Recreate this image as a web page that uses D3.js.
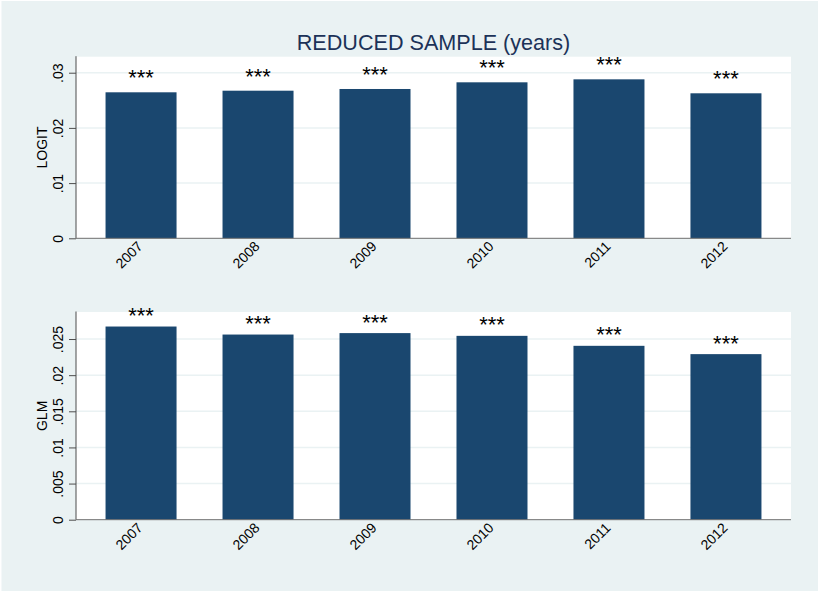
<!DOCTYPE html>
<meta charset="utf-8">
<head>
<script src="https://d3js.org/d3.v7.min.js"></script>
<style>
body { margin: 0; background: #ffffff; }
text { font-family: "Liberation Sans", Arial, sans-serif; }
</style>
</head>
<body>
<div id="chart"></div>
<script>
// data
var years = ["2007", "2008", "2009", "2010", "2011", "2012"];
var logitValues = [0.02645, 0.02674, 0.02705, 0.02826, 0.02880, 0.02627];
var glmValues = [0.02673, 0.02562, 0.02582, 0.02544, 0.02406, 0.02291];
var logitTicks = [0, 0.01, 0.02, 0.03];
var logitTickLabels = ["0", ".01", ".02", ".03"];
var glmTicks = [0, 0.005, 0.01, 0.015, 0.02, 0.025];
var glmTickLabels = ["0", ".005", ".01", ".015", ".02", ".025"];
var starLabel = "***";
var title = "REDUCED SAMPLE (years)";

var W = 819, H = 592;
var svg = d3.select("#chart").append("svg")
    .attr("width", W)
    .attr("height", H);

// graph region
svg.append("rect")
    .attr("x", 1.5).attr("y", 1)
    .attr("width", W - 2.5).attr("height", H - 2)
    .attr("fill", "#eaf2f3");

svg.append("text")
    .attr("x", 433.5)
    .attr("y", 50)
    .attr("text-anchor", "middle")
    .attr("font-size", "21.6px")
    .attr("fill", "#1c3258")
    .text(title);

var x = d3.scalePoint()
    .domain(years)
    .range([76, 791])
    .padding(0.556);
var barW = 71;

function panel(opt) {
    var y = d3.scaleLinear()
        .domain([0, opt.yMax])
        .range([opt.bottom, opt.top]);

    var g = svg.append("g");

    // plot region
    g.append("rect")
        .attr("x", 76).attr("y", opt.top)
        .attr("width", 791 - 76).attr("height", opt.bottom - opt.top)
        .attr("fill", "#ffffff");

    // gridlines
    g.selectAll(".grid")
        .data(opt.ticks.slice(1))
        .enter().append("line")
        .attr("x1", 76).attr("x2", 791)
        .attr("y1", function(d) { return y(d); })
        .attr("y2", function(d) { return y(d); })
        .attr("stroke", "#eaf2f3")
        .attr("stroke-width", 1.5);

    // bars
    g.selectAll(".bar")
        .data(opt.values)
        .enter().append("rect")
        .attr("x", function(d, i) { return x(years[i]) - barW / 2; })
        .attr("y", function(d) { return y(d); })
        .attr("width", barW)
        .attr("height", function(d) { return opt.bottom - y(d); })
        .attr("fill", "#1a476f");

    // significance stars
    g.selectAll(".star")
        .data(opt.values)
        .enter().append("text")
        .attr("x", function(d, i) { return x(years[i]); })
        .attr("y", function(d) { return y(d) - opt.starGap; })
        .attr("text-anchor", "middle")
        .attr("font-size", "22px")
        .attr("fill", "#000")
        .text(starLabel);

    // y axis
    var yAxis = d3.axisLeft(y)
        .tickValues(opt.ticks)
        .tickFormat(function(d, i) { return opt.tickLabels[i]; })
        .tickSize(7)
        .tickSizeOuter(0);
    var ya = g.append("g")
        .attr("transform", "translate(76,0)")
        .call(yAxis);
    ya.select(".domain")
        .attr("d", "M0," + (opt.top - 0.5) + "V" + opt.bottom)
        .attr("stroke", "#4d4d4d");
    ya.selectAll(".tick line").attr("stroke", "#4d4d4d");
    ya.selectAll(".tick text")
        .attr("x", null).attr("dy", null)
        .attr("transform", "translate(-13,0) rotate(-90)")
        .attr("text-anchor", "middle")
        .attr("font-size", "14px")
        .attr("font-family", "Liberation Sans, Arial, sans-serif")
        .attr("fill", "#000");

    // x axis
    var xAxis = d3.axisBottom(x).tickSize(0).tickSizeOuter(0);
    var xa = g.append("g")
        .attr("transform", "translate(0," + opt.bottom + ")")
        .call(xAxis);
    xa.select(".domain")
        .attr("d", "M76,0H791")
        .attr("stroke", "#6e6e6e");
    xa.selectAll(".tick text")
        .attr("y", null).attr("dy", null)
        .attr("transform", "translate(2,9) rotate(-45)")
        .attr("text-anchor", "end")
        .attr("font-size", "14px")
        .attr("font-family", "Liberation Sans, Arial, sans-serif")
        .attr("fill", "#000");

    // axis title
    g.append("text")
        .attr("transform", "translate(47," + ((opt.top + opt.bottom) / 2) + ") rotate(-90)")
        .attr("text-anchor", "middle")
        .attr("font-size", "14px")
        .attr("fill", "#000")
        .text(opt.label);
}

panel({ values: logitValues, yMax: 0.0329, top: 56.7, bottom: 238.3,
        ticks: logitTicks, tickLabels: logitTickLabels, label: "LOGIT", starGap: 7 });
panel({ values: glmValues, yMax: 0.02874, top: 312, bottom: 519.7,
        ticks: glmTicks, tickLabels: glmTickLabels, label: "GLM", starGap: 3.5 });
</script>
</body>
</html>
